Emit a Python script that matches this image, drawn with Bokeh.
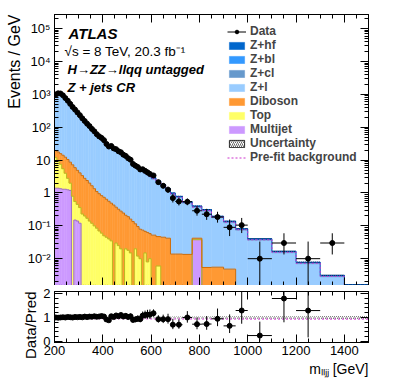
import numpy as np
from bokeh.plotting import figure
from bokeh.layouts import column
from bokeh.models import (Range1d, LinearAxis, LogAxis, LogTicker, SingleIntervalTicker,
                          Label, Legend, LegendItem, CustomJSTickFormatter, Title)
from bokeh.embed import file_html
from bokeh.resources import INLINE

# ---------------- data ----------------
bin_edges = [200, 210, 220, 230, 240, 250, 260, 270, 280, 290, 300, 310, 320, 330, 340,
             350, 360, 370, 380, 390, 400, 410, 420, 430, 440, 450, 460, 470, 480, 490,
             500, 510, 520, 530, 540, 550, 560, 570, 580, 590, 600, 620, 640, 660, 680,
             700, 730, 770, 810, 850, 900, 950, 1000, 1100, 1200, 1300, 1400, 1500]

multijet = [1.4, 1.4, 1.35, 1.3, 1.3, 1.25, 1.2, 0, 0.15, 0.14,
            0.12, 0, 0, 0, 0, 0, 0, 0, 0, 0,
            0, 0, 0, 0, 0, 0, 0, 0, 0, 0,
            0, 0, 0, 0, 0, 0, 0, 0, 0, 0,
            0, 0, 0, 0, 0, 0, 0, 0.038, 0, 0,
            0, 0, 0, 0, 0, 0, 0]
top = [10.6, 8.6, 6.15, 4.2, 2.7, 1.55, 0.8, 0.8, 0.40, 0.31,
       0.24, 0.23, 0.20, 0.17, 0.14, 0.12, 0.10, 0.085, 0.07, 0.06,
       0.05, 0.045, 0.04, 0.035, 0, 0.03, 0.025, 0.02, 0, 0.02,
       0.018, 0.015, 0, 0.02, 0.012, 0.01, 0, 0.015, 0.008, 0.01,
       0, 0.006, 0, 0, 0, 0, 0, 0, 0, 0,
       0, 0, 0, 0, 0, 0, 0]
diboson = [7.5, 7.8, 8.3, 8.6, 8.3, 7.7, 6.7, 6.4, 5.35, 4.45,
           3.74, 3.15, 2.6, 2.23, 1.86, 1.54, 1.25, 1.02, 0.88, 0.77,
           0.69, 0.60, 0.52, 0.455, 0.43, 0.34, 0.295, 0.26, 0.245, 0.19,
           0.172, 0.145, 0.135, 0.095, 0.083, 0.069, 0.074, 0.053, 0.055, 0.048,
           0.052, 0.041, 0.045, 0.042, 0.0138, 0.0138, 0.0135, 0.004, 0.0054, 0.0055,
           0.0048, 0.0003, 0.0002, 0.0002, 0.0001, 0.0001, 0.0001]
z_l = [882, 970, 950, 827, 688, 558, 454, 369, 300, 249,
       202, 165, 133, 112, 92.7, 76.8, 63.6, 53.0, 45.0, 39.8,
       34.5, 30.1, 26.0, 22.7, 19.8, 17.6, 15.75, 13.95, 12.5, 11.2,
       9.9, 8.68, 7.53, 6.56, 5.77, 4.97, 4.35, 3.81, 3.37, 3.01,
       2.57, 2.03, 1.57, 1.18, 0.887, 0.698, 0.474, 0.322, 0.275, 0.171,
       0.120, 0.073, 0.036, 0.0149, 0.0069, 0.0027, 0.00135]
z_cl = [59, 65, 63, 55, 46, 37, 30, 25, 20, 16.6,
        13.5, 11.0, 8.9, 7.4, 6.2, 5.1, 4.2, 3.5, 3.0, 2.65,
        2.3, 2.0, 1.73, 1.51, 1.32, 1.18, 1.05, 0.93, 0.83, 0.74,
        0.66, 0.58, 0.50, 0.44, 0.38, 0.33, 0.29, 0.25, 0.22, 0.20,
        0.17, 0.135, 0.104, 0.079, 0.059, 0.047, 0.032, 0.021, 0.018, 0.0114,
        0.008, 0.0049, 0.0024, 0.0010, 0.00046, 0.00018, 0.00009]
z_bl = [24, 27, 27, 23, 19, 16, 12.6, 10.2, 8.3, 6.9,
        5.6, 4.6, 3.7, 3.1, 2.6, 2.1, 1.8, 1.5, 1.25, 1.1,
        0.96, 0.83, 0.72, 0.63, 0.55, 0.49, 0.44, 0.39, 0.35, 0.31,
        0.28, 0.24, 0.21, 0.18, 0.16, 0.138, 0.121, 0.106, 0.094, 0.084,
        0.071, 0.056, 0.044, 0.033, 0.025, 0.019, 0.013, 0.009, 0.0076, 0.0048,
        0.0033, 0.0020, 0.0010, 0.00042, 0.00019, 0.000075, 0.000038]
z_hf = [15, 16, 16, 14, 11, 9.3, 7.6, 6.2, 5.0, 4.2,
        3.4, 2.7, 2.2, 1.9, 1.5, 1.3, 1.1, 0.88, 0.75, 0.66,
        0.57, 0.50, 0.43, 0.38, 0.33, 0.29, 0.26, 0.23, 0.21, 0.19,
        0.165, 0.145, 0.126, 0.109, 0.096, 0.083, 0.072, 0.063, 0.056, 0.050,
        0.043, 0.034, 0.026, 0.020, 0.015, 0.012, 0.0079, 0.0054, 0.0046, 0.0029,
        0.0020, 0.0012, 0.0006, 0.00025, 0.00012, 0.000045, 0.000023]
data = [1000, 1085, 1072, 942, 776, 644, 518, 417, 346, 285,
        234, 188, 156, 129, 109, 89.6, 75.6, 61.8, 53.0, 47.7,
        40.6, 31.3, 26.0, 27.0, 22.8, 21.6, 18.7, 17.4, 14.7, 13.5,
        11.4, 10.3, 7.65, 6.81, 6.18, 5.21, 5.29, 4.73, 4.26, 3.81,
        3.42, 2.14, 1.66, 1.26, 0.70, 0.553, 0.54, 0.288, 0.226, 0.185,
        0.090, 0.105, 0.010, 0.030, 0.010, 0.030, None]
unc_rel = [0.012, 0.012, 0.012, 0.012, 0.012, 0.012, 0.013, 0.013, 0.013, 0.013,
           0.014, 0.014, 0.014, 0.015, 0.015, 0.015, 0.016, 0.016, 0.016, 0.017,
           0.017, 0.018, 0.018, 0.018, 0.019, 0.019, 0.02, 0.02, 0.021, 0.021,
           0.022, 0.022, 0.023, 0.023, 0.024, 0.024, 0.025, 0.025, 0.026, 0.026,
           0.028, 0.03, 0.032, 0.034, 0.036, 0.038, 0.04, 0.042, 0.044, 0.046,
           0.048, 0.05, 0.052, 0.054, 0.056, 0.058, 0.06]
prefit_ratio = [0.955, 0.955, 0.954, 0.954, 0.953, 0.953, 0.952, 0.952, 0.951, 0.951,
                0.95, 0.95, 0.95, 0.949, 0.949, 0.949, 0.948, 0.948, 0.948, 0.947,
                0.947, 0.947, 0.946, 0.946, 0.946, 0.945, 0.945, 0.945, 0.944, 0.944,
                0.944, 0.943, 0.943, 0.943, 0.942, 0.942, 0.942, 0.941, 0.941, 0.941,
                0.94, 0.94, 0.939, 0.939, 0.938, 0.938, 0.937, 0.937, 0.936, 0.936,
                0.935, 0.935, 0.934, 0.934, 0.933, 0.933, 0.932]

y_ticks_main = {-2: "10⁻²", -1: "10⁻¹", 0: "1", 1: "10", 2: "10²", 3: "10³", 4: "10⁴", 5: "10⁵"}

# ---------------- derived ----------------
edges = np.array(bin_edges, float)
left, right = edges[:-1], edges[1:]
centers = 0.5 * (left + right)
widths = right - left
total = (np.array(multijet) + np.array(top) + np.array(diboson) + np.array(z_l)
         + np.array(z_cl) + np.array(z_bl) + np.array(z_hf))
d = np.array(data, dtype=float)
N = d * widths
with np.errstate(invalid="ignore"):
    n_lo = np.where(N >= 1, N - np.sqrt(np.clip(N - 0.25, 0, None)), 0.0)
    n_hi = N + np.sqrt(N + 0.75) + 1.0
d_lo = n_lo / widths
d_hi = n_hi / widths
urel = np.array(unc_rel)
prefit = total * np.array(prefit_ratio)

FONT = "Liberation Sans"
X0, X1 = 200, 1500
LMIN, LMAX = -2.817, 5.436
RMIN, RMAX = -0.04, 2.08
FW, FH, RH = 314, 271, 51
FLOOR = 1e-5


def mx(dx):
    return X0 + dx * (X1 - X0) / FW


def my(dy):
    return 10 ** (LMAX - dy * (LMAX - LMIN) / FH)


def step_y(v):
    v = np.asarray(v, float)
    return np.append(v, v[-1])


BLANK = "return '';"


def hidden_axis(cls, ticker):
    return cls(ticker=ticker, formatter=CustomJSTickFormatter(code=BLANK),
               major_label_text_font_size="1px", major_label_standoff=0,
               major_tick_in=8, major_tick_out=0, minor_tick_in=4, minor_tick_out=0,
               axis_line_color="black")


def side_title(text, size, align, standoff):
    return Title(text=text, align=align, text_font=FONT, text_font_size=size,
                 text_font_style="normal", text_color="black", standoff=standoff)


# ---------------- main panel ----------------
p = figure(x_range=Range1d(X0, X1), y_range=Range1d(10 ** LMIN, 10 ** LMAX),
           y_axis_type="log", frame_width=FW, frame_height=FH,
           min_border_left=54, min_border_right=23, min_border_top=14, min_border_bottom=0,
           output_backend="svg", toolbar_location=None)
p.grid.visible = False
p.outline_line_color = "black"
p.outline_line_width = 1
p.background_fill_color = "white"
p.border_fill_color = "white"

layers = [
    ("Multijet", multijet, "#CC99FF", "#9966CC"),
    ("Top", top, "#FFFF66", "#BBBB22"),
    ("Diboson", diboson, "#FF9933", "#D26A00"),
    ("Z+l", z_l, "#99CCFF", None),
    ("Z+cl", z_cl, "#6699CC", None),
    ("Z+bl", z_bl, "#3399FF", None),
    ("Z+hf", z_hf, "#0066CC", "#0055BB"),
]
cum = np.zeros(len(centers))
layer_r = {}
outlines = []
for name, vals, fc, lc in layers:
    bot = np.maximum(cum, FLOOR)
    cum = cum + np.array(vals, float)
    tp = np.maximum(cum, FLOOR)
    r = p.quad(left=left, right=right, bottom=bot, top=tp, fill_color=fc,
               line_color=fc, line_width=0.5)
    layer_r[name] = r
    if lc is not None:
        outlines.append((tp.copy(), lc))
for tp, lc in outlines:
    p.step(x=edges, y=step_y(tp), mode="after", line_color=lc, line_width=1)

p.quad(left=left, right=right, bottom=total * (1 - urel), top=total * (1 + urel),
       fill_alpha=0, line_color=None, hatch_pattern="/", hatch_color="black",
       hatch_weight=0.5, hatch_scale=4)
pre_r = p.step(x=edges, y=step_y(prefit), mode="after", line_color="#CC33CC",
               line_width=1, line_dash="2 2")

p.segment(x0=left, x1=right, y0=d, y1=d, line_color="black", line_width=1)
p.segment(x0=centers, x1=centers, y0=np.maximum(d_lo, 10 ** LMIN), y1=d_hi,
          line_color="black", line_width=1)
data_r = p.scatter(x=centers, y=d, size=5, color="black")

# legend helpers (outside the visible range, used only for legend glyphs)
leg_line = p.line(x=[X0 - 100, X0 - 90], y=[1, 1], line_color="black", line_width=1)
leg_unc = p.quad(left=[X0 - 100], right=[X0 - 90], bottom=[1], top=[2], fill_color="white",
                 line_color="black", line_width=0.8, hatch_pattern="/",
                 hatch_color="black", hatch_weight=0.6, hatch_scale=4)

items = [LegendItem(label="Data", renderers=[leg_line, data_r])]
for name in ["Z+hf", "Z+bl", "Z+cl", "Z+l", "Diboson", "Top", "Multijet"]:
    items.append(LegendItem(label=name, renderers=[layer_r[name]]))
items.append(LegendItem(label="Uncertainty", renderers=[leg_unc]))
items.append(LegendItem(label="Pre-fit background", renderers=[pre_r]))
legend = Legend(items=items, location=(173, 121), label_text_font=FONT,
                label_text_font_size="12px", label_text_font_style="bold",
                glyph_width=19, glyph_height=9, label_height=14, label_standoff=4,
                spacing=0, padding=0, margin=0, border_line_color=None,
                background_fill_alpha=0)
p.add_layout(legend)

fmt_code = """
const e = Math.round(Math.log10(tick));
const lab = %s;
const k = String(e);
return (k in lab) ? lab[k] : "";
""" % str({str(k): v for k, v in y_ticks_main.items()}).replace("'", '"')

# axes main
ya = p.yaxis[0]
ya.ticker = LogTicker(desired_num_ticks=10, num_minor_ticks=10)
ya.formatter = CustomJSTickFormatter(code=fmt_code)
xa = p.xaxis[0]
xa.ticker = SingleIntervalTicker(interval=200, num_minor_ticks=4)
xa.formatter = CustomJSTickFormatter(code=BLANK)
xa.major_label_text_font_size = "1px"
xa.major_label_standoff = 0
for ax in (xa, ya):
    ax.major_tick_in = 8
    ax.major_tick_out = 0
    ax.minor_tick_in = 4
    ax.minor_tick_out = 0
    ax.axis_line_color = "black"
    ax.major_label_text_font = FONT
    ax.major_label_text_color = "black"
ya.major_label_text_font_size = "13px"
ya.major_label_standoff = 4

p.add_layout(hidden_axis(LogAxis, LogTicker(desired_num_ticks=10, num_minor_ticks=10)), "right")
p.add_layout(hidden_axis(LinearAxis, SingleIntervalTicker(interval=200, num_minor_ticks=4)),
             "above")
p.add_layout(side_title("Events / GeV", "16px", "right", 3), "left")

# texts main
p.add_layout(Label(x=mx(14), y=my(19), text="ATLAS", text_font=FONT, text_font_size="15px",
                   text_font_style="bold italic", text_baseline="middle", text_color="black"))
p.add_layout(Label(x=mx(10), y=my(37), text="√s = 8 TeV, 20.3 fb⁻¹", text_font=FONT,
                   text_font_size="13.5px", text_baseline="middle", text_color="black"))
p.add_layout(Label(x=mx(13), y=my(55), text="H→ZZ→llqq untagged", text_font=FONT,
                   text_font_size="13px", text_font_style="bold italic",
                   text_baseline="middle", text_color="black"))
p.add_layout(Label(x=mx(13), y=my(73), text="Z + jets CR", text_font=FONT,
                   text_font_size="13px", text_font_style="bold italic",
                   text_baseline="middle", text_color="black"))

# ---------------- ratio panel ----------------
q = figure(x_range=p.x_range, y_range=Range1d(RMIN, RMAX), frame_width=FW, frame_height=RH,
           min_border_left=54, min_border_right=23, min_border_top=6, min_border_bottom=36,
           output_backend="svg", toolbar_location=None)
q.grid.visible = False
q.outline_line_color = "black"
q.outline_line_width = 1

q.quad(left=left, right=right, bottom=1 - urel, top=1 + urel, fill_alpha=0, line_color=None,
       hatch_pattern="/", hatch_color="black", hatch_weight=0.5, hatch_scale=4)
q.step(x=edges, y=step_y(prefit_ratio), mode="after", line_color="#CC33CC",
       line_width=1, line_dash="2 2")
rat = d / total
q.segment(x0=left, x1=right, y0=rat, y1=rat, line_color="black", line_width=1)
q.segment(x0=centers, x1=centers, y0=d_lo / total, y1=d_hi / total, line_color="black",
          line_width=1)
q.scatter(x=centers, y=rat, size=5, color="black")

qx = q.xaxis[0]
qx.ticker = SingleIntervalTicker(interval=200, num_minor_ticks=4)
qy = q.yaxis[0]
qy.ticker = SingleIntervalTicker(interval=1, num_minor_ticks=5)
for ax in (qx, qy):
    ax.major_tick_in = 8
    ax.major_tick_out = 0
    ax.minor_tick_in = 4
    ax.minor_tick_out = 0
    ax.axis_line_color = "black"
    ax.major_label_text_font = FONT
    ax.major_label_text_font_size = "13px"
    ax.major_label_text_color = "black"
qx.major_label_standoff = 3
qy.major_label_standoff = 4

q.add_layout(hidden_axis(LinearAxis, SingleIntervalTicker(interval=1, num_minor_ticks=5)),
             "right")
q.add_layout(hidden_axis(LinearAxis, SingleIntervalTicker(interval=200, num_minor_ticks=4)),
             "above")
q.add_layout(side_title("Data/Pred", "15px", "right", 4), "left")
q.add_layout(side_title("mₗₗⱼⱼ [GeV]", "14px", "right", 2), "below")

layout = column(p, q, spacing=0)
open("out.html", "w").write(file_html(layout, INLINE))
